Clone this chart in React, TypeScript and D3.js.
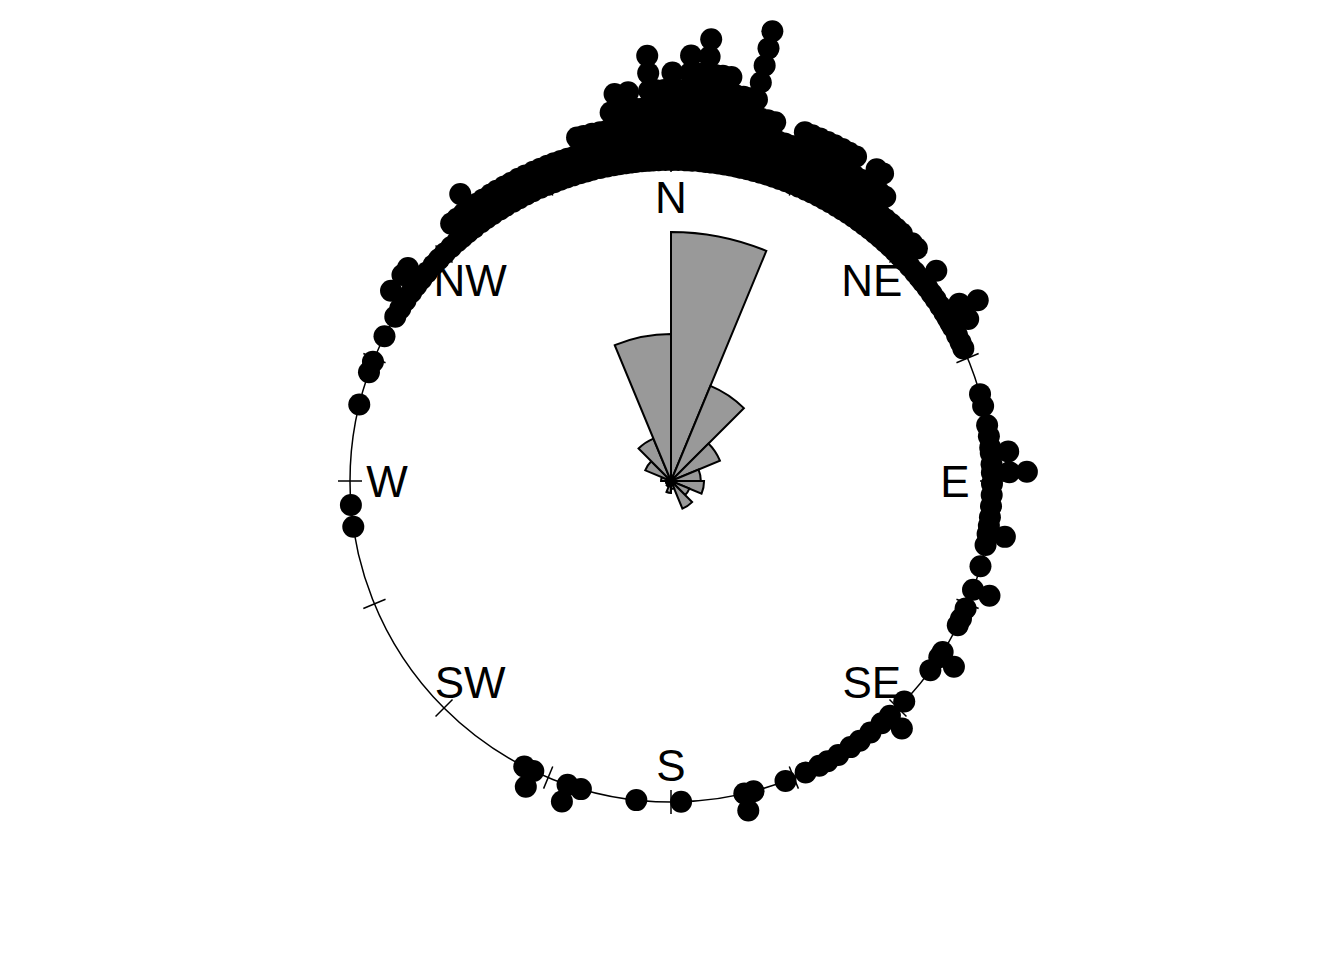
import { useEffect, useRef } from "react";
import * as d3 from "d3";

// compass labels, clockwise from north
const compassLabels = ["N", "NE", "E", "SE", "S", "SW", "W", "NW"];

// rose diagram: 16 bins of 22.5 degrees, radius as a share of the circle radius
const roseValues = [
  0.776, 0.321, 0.165, 0.093, 0.103, 0.062, 0.093, 0.025,
  0.037, 0.019, 0.016, 0.016, 0.031, 0.087, 0.143, 0.458,
];

// stacked points: bearing (degrees) and number of points in the stack
// (rows of the two arrays line up)
const dotAngles = [
  261.8, 265.7, 283.8, 289.8, 291.8, 296.8, 300.8, 302.5, 304.2, 306,
  307.5, 309, 310.5, 312.3, 313.7, 315.2, 316.8, 318.3, 319.5, 320.8,
  322.2, 323.7, 325, 326.3, 327.8, 329, 330.5, 331.8, 333.2, 334.5,
  336, 337.3, 338.6, 339.8, 341, 342.2, 343.5, 344.7, 345.8, 347.2,
  348.5, 349.7, 350.7, 351.7, 352.7, 353.7, 354.8, 355.8, 356.8, 357.8,
  359, 0.2, 1.3, 2.7, 3.8, 5.2, 6.2, 7.3, 8.5, 9.6,
  10.7, 11.8, 12.7, 13.8, 15, 16.2, 17.4, 18.6, 19.8, 21,
  22.2, 23.5, 24.8, 26, 27.3, 28.5, 29.7, 31, 32.2, 33.4,
  34.6, 35.8, 37, 38.2, 39.4, 40.6, 41.8, 43, 44.2, 45.4,
  46.6, 48, 49.4, 50.6, 51.6, 53, 54.3, 55.5, 57, 58.4,
  59.5, 60.5, 61.4, 63, 64.4, 65.6, 74.3, 76.5, 80, 82,
  84, 85, 87, 88.5, 90.5, 92.5, 94.5, 96.5, 98, 99.5,
  101.5, 105.4, 109.8, 113.4, 115.4, 116.7, 122.2, 123.3, 126.1, 133.4,
  137, 139, 141.6, 144, 146, 148.6, 150.8, 152.5, 155.2, 159.1,
  165.1, 166.8, 178.2, 186.2, 196.3, 198.8, 205.4, 207.2,
];
const dotCounts = [
  1, 1, 1, 1, 1, 1, 1, 1, 2, 1,
  2, 2, 1, 1, 1, 1, 1, 1, 2, 2,
  2, 3, 2, 2, 2, 2, 2, 2, 2, 2,
  2, 2, 2, 2, 2, 2, 2, 3, 3, 3,
  3, 3, 4, 5, 4, 5, 4, 4, 7, 5,
  5, 6, 5, 7, 6, 8, 6, 6, 6, 5,
  5, 5, 9, 4, 4, 4, 3, 3, 3, 4,
  4, 4, 4, 4, 4, 4, 4, 3, 3, 4,
  4, 3, 3, 2, 2, 2, 2, 2, 1, 2,
  2, 1, 1, 1, 2, 1, 1, 1, 1, 2,
  3, 1, 2, 1, 1, 1, 1, 1, 1, 1,
  1, 2, 1, 3, 1, 1, 1, 1, 1, 2,
  1, 1, 2, 1, 1, 1, 1, 2, 1, 1,
  2, 1, 1, 1, 1, 1, 1, 1, 1, 1,
  1, 2, 1, 1, 1, 2, 2, 1,
];

const W = 1344;
const H = 960;
const cx = 671;
const cy = 481;
const R = 321;

export default function App() {
  const ref = useRef<SVGSVGElement | null>(null);

  useEffect(() => {
    const svg = d3.select(ref.current);
    svg.selectAll("*").remove();

    const ang = d3.scaleLinear().domain([0, 360]).range([0, 2 * Math.PI]);
    const rad = d3.scaleLinear().domain([0, 1]).range([0, R]);
    // one step outward per stacked point
    const stack = d3.scaleLinear().domain([0, 1]).range([R, R + 17.5]);
    const polar = (deg: number, r: number): [number, number] => [
      r * Math.sin(ang(deg)),
      -r * Math.cos(ang(deg)),
    ];

    const g = svg.append("g").attr("transform", `translate(${cx},${cy})`);

    // circle
    g.append("circle")
      .attr("r", R)
      .attr("fill", "none")
      .attr("stroke", "#000")
      .attr("stroke-width", 1.5);

    // ticks every 22.5 degrees
    const ticks = d3.range(0, 360, 22.5);
    g.selectAll("line.tick")
      .data(ticks)
      .join("line")
      .attr("class", "tick")
      .attr("x1", (d) => polar(d, R - 12)[0])
      .attr("y1", (d) => polar(d, R - 12)[1])
      .attr("x2", (d) => polar(d, R + 12)[0])
      .attr("y2", (d) => polar(d, R + 12)[1])
      .attr("stroke", "#000")
      .attr("stroke-width", 1.5);

    // rose
    const arc = d3
      .arc<number>()
      .innerRadius(0)
      .outerRadius((d) => rad(d))
      .startAngle((_, i) => ang(i * 22.5))
      .endAngle((_, i) => ang((i + 1) * 22.5));
    g.selectAll("path.rose")
      .data(roseValues)
      .join("path")
      .attr("class", "rose")
      .attr("d", (d, i) => arc(d, i) ?? "")
      .attr("fill", "#999999")
      .attr("stroke", "#000")
      .attr("stroke-width", 2)
      .attr("stroke-linejoin", "miter");

    // stacked points
    const pts: [number, number][] = [];
    dotAngles.forEach((a, i) => {
      for (let j = 0; j < dotCounts[i]; j++) pts.push(polar(a, stack(j)));
    });
    g.selectAll("circle.pt")
      .data(pts)
      .join("circle")
      .attr("class", "pt")
      .attr("cx", (d) => d[0])
      .attr("cy", (d) => d[1])
      .attr("r", 11)
      .attr("fill", "#000");

    // compass labels
    g.selectAll("text.lab")
      .data(compassLabels)
      .join("text")
      .attr("class", "lab")
      .attr("x", (_, i) => polar(i * 45, 284)[0])
      .attr("y", (_, i) => polar(i * 45, 284)[1])
      .attr("dy", "0.36em")
      .attr("text-anchor", "middle")
      .attr("font-family", "Liberation Sans, Arial, sans-serif")
      .attr("font-size", 44)
      .attr("fill", "#000")
      .text((d) => d);
  }, []);

  return (
    <svg
      ref={ref}
      width={W}
      height={H}
      style={{ position: "absolute", left: 0, top: 0, background: "#fff" }}
    />
  );
}
